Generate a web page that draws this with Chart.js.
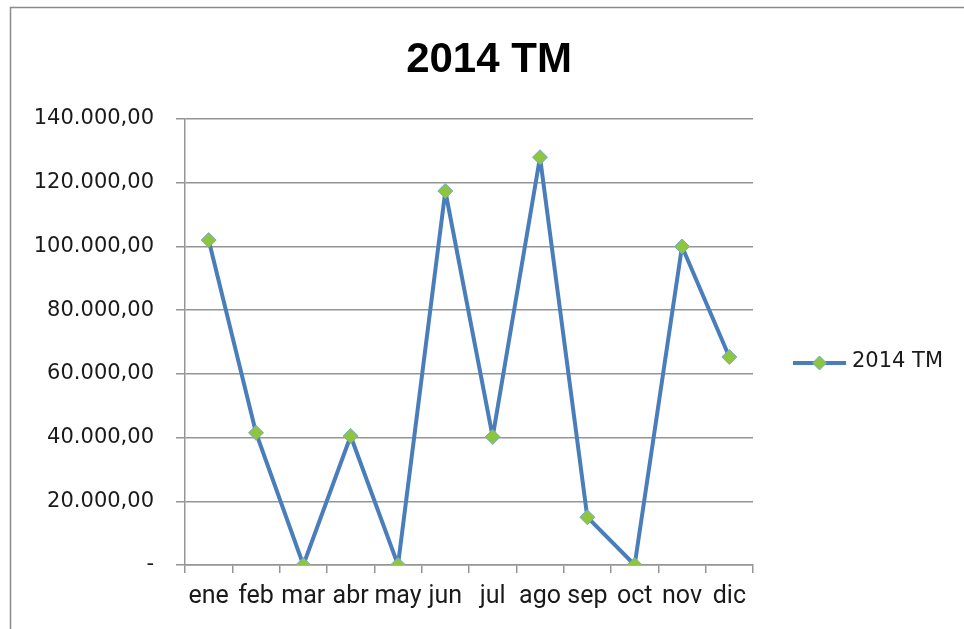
<!DOCTYPE html>
<html>
<head>
<meta charset="utf-8">
<script src="https://cdn.jsdelivr.net/npm/chart.js@4"></script>
<style>
  html, body { margin: 0; padding: 0; background: #ffffff; }
  canvas { display: block; }
</style>
</head>
<body>
<canvas id="chart" width="964" height="629"></canvas>
<script>
// ------------------------------------
// DATA
// ------------------------------------
const months = ["ene", "feb", "mar", "abr", "may", "jun", "jul", "ago", "sep", "oct", "nov", "dic"];
const tm2014 = [102000, 41500, 0, 40500, 0, 117400, 40200, 128000, 15000, 0, 100000, 65300];
const seriesName = "2014 TM";
const yTicks = [0, 20000, 40000, 60000, 80000, 100000, 120000, 140000];

const lineColor = "#4a7ebb";
const markerFill = "#8cc63f";
const markerEdge = "#7ba7d4";
const gridColor = "#959595";

// 140000 -> "140.000,00", 0 -> "-"
function fmt(v) {
  if (v === 0) return "-";
  const s = Math.round(v).toString().replace(/\B(?=(\d{3})+(?!\d))/g, ".");
  return s + ",00";
}

// ------------------------------------
// frame + legend (line with diamond marker)
// ------------------------------------
const framePlugin = {
  id: "frame",
  beforeDraw(chart) {
    const ctx = chart.ctx;
    ctx.save();
    ctx.strokeStyle = "#8a8a8a";
    ctx.lineWidth = 1.5;
    ctx.strokeRect(10.5, 7.5, 1200, 1200);
    ctx.restore();
  },
  afterDraw(chart) {
    const ctx = chart.ctx;
    const a = chart.chartArea;
    const x0 = a.right + 40;
    const y = 363;
    ctx.save();
    ctx.strokeStyle = lineColor;
    ctx.lineWidth = 4;
    ctx.beginPath();
    ctx.moveTo(x0, y);
    ctx.lineTo(x0 + 53, y);
    ctx.stroke();
    const cx = x0 + 26.5, r = 7;
    ctx.beginPath();
    ctx.moveTo(cx, y - r);
    ctx.lineTo(cx + r, y);
    ctx.lineTo(cx, y + r);
    ctx.lineTo(cx - r, y);
    ctx.closePath();
    ctx.fillStyle = markerFill;
    ctx.fill();
    ctx.strokeStyle = markerEdge;
    ctx.lineWidth = 1;
    ctx.stroke();
    ctx.fillStyle = "#1a1a1a";
    ctx.font = "21px 'DejaVu Sans'";
    ctx.textAlign = "left";
    ctx.textBaseline = "middle";
    ctx.fillText(seriesName, x0 + 59, y - 1);
    ctx.restore();
  },
};

const ctx = document.getElementById("chart").getContext("2d");

window.myChart = new Chart(ctx, {
  type: "line",
  data: {
    labels: months,
    datasets: [
      {
        label: seriesName,
        data: tm2014,
        yAxisID: "y",
        borderColor: lineColor,
        borderWidth: 4,
        borderJoinStyle: "round",
        tension: 0,
        pointStyle: "rectRot",
        pointRadius: 7.5,
        pointHoverRadius: 7.5,
        pointBackgroundColor: markerFill,
        pointBorderColor: markerEdge,
        pointBorderWidth: 1,
      },
    ],
  },
  options: {
    responsive: false,
    animation: false,
    layout: { padding: { left: 14, right: 0, top: 0, bottom: 0 } },
    plugins: {
      legend: { display: false },
      tooltip: { enabled: false },
      title: {
        display: true,
        text: seriesName,
        color: "#000000",
        font: { family: "'Liberation Sans'", size: 42, weight: "bold", lineHeight: 1.2 },
        padding: { top: 35, bottom: 33.6 },
      },
    },
    scales: {
      x: {
        offset: true,
        grid: {
          offset: true,
          drawOnChartArea: false,
          drawTicks: true,
          tickLength: 8,
          color: gridColor,
          lineWidth: 1.5,
        },
        border: { color: gridColor, width: 1.5 },
        ticks: {
          color: "#1a1a1a",
          padding: 9,
          maxRotation: 0,
          autoSkip: false,
          font: { family: "Roboto", size: 25 },
        },
        afterFit(scale) { scale.height = 64; },
      },
      y: {
        min: 0,
        max: 140000,
        afterBuildTicks(scale) { scale.ticks = yTicks.map((v) => ({ value: v })); },
        grid: {
          drawTicks: true,
          tickLength: 9,
          color: gridColor,
          lineWidth: 1.5,
        },
        border: { color: gridColor, width: 1.5 },
        ticks: {
          color: "#1a1a1a",
          padding: 22,
          font: { family: "'DejaVu Sans'", size: 21 },
          callback: (v) => fmt(v),
        },
        afterFit(scale) { scale.width = 171; },
      },
      // empty axis that only reserves the legend column on the right
      side: {
        type: "linear",
        position: "right",
        grid: { display: false, drawTicks: false },
        border: { display: false },
        ticks: { display: false },
        afterFit(scale) { scale.width = 211; },
      },
    },
  },
  plugins: [framePlugin],
});
</script>
</body>
</html>
